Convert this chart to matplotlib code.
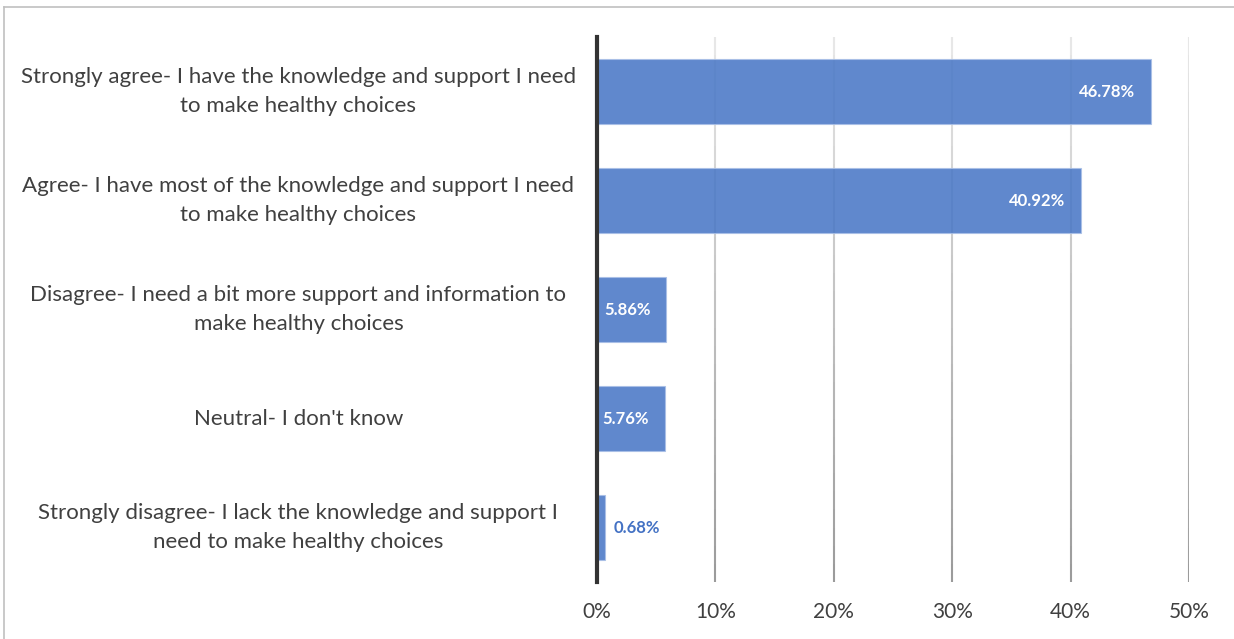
import matplotlib.pyplot as plt
import numpy as np
from matplotlib.lines import Line2D
from matplotlib.collections import LineCollection
from matplotlib.colors import to_rgb

plt.rcParams['font.family'] = ['Lato', 'DejaVu Sans']

categories = [
    'Strongly agree- I have the knowledge and support I need\nto make healthy choices',
    'Agree- I have most of the knowledge and support I need\nto make healthy choices',
    'Disagree- I need a bit more support and information to\nmake healthy choices',
    "Neutral- I don't know",
    'Strongly disagree- I lack the knowledge and support I\nneed to make healthy choices',
]
values = [46.78, 40.92, 5.86, 5.76, 0.68]
xticks = [0, 10, 20, 30, 40, 50]

bar_color = '#4a78c6'
text_color = '#404040'

fig = plt.figure(figsize=(12.34, 6.39), dpi=100)
ax = fig.add_axes([0.4838, 0.089, 0.4797, 0.853])

ypos = list(range(len(values)))
ax.barh(ypos, values, height=0.6, color=bar_color, alpha=0.88,
        edgecolor='#a9bfe6', linewidth=0.8, zorder=3)
ax.set_ylim(len(values) - 0.5, -0.5)
ax.set_xlim(0, 50)

# gridlines, lighter at the top, darker at the bottom
top_c = np.array(to_rgb('#e8e8e8'))
bot_c = np.array(to_rgb('#9a9a9a'))
n = 30
ys = np.linspace(0, 1, n + 1)
for t in xticks[1:]:
    segs = [[(t, ys[i]), (t, ys[i + 1])] for i in range(n)]
    cols = [bot_c + (top_c - bot_c) * (ys[i] + ys[i + 1]) / 2 for i in range(n)]
    lc = LineCollection(segs, colors=cols, linewidths=1.5,
                        transform=ax.get_xaxis_transform(), zorder=1)
    ax.add_collection(lc)

# value labels
for y, v in zip(ypos, values):
    if v > 3:
        ax.text(v - 1.35, y, f'{v:.2f}%', ha='right', va='center',
                color='white', fontsize=12, fontweight='bold', zorder=4)
    else:
        ax.text(v + 0.76, y, f'{v:.2f}%', ha='left', va='center',
                color='#4472c4', fontsize=12, fontweight='bold', zorder=4)

ax.set_yticks(ypos)
ax.set_yticklabels(categories, fontsize=16, color=text_color,
                   ha='center', va='center', linespacing=1.55)
ax.tick_params(axis='y', length=0, pad=215)
ax.set_xticks(xticks)
ax.set_xticklabels([f'{t}%' for t in xticks], fontsize=15, color=text_color)
ax.tick_params(axis='x', length=0, pad=14)

for s in ['top', 'right', 'bottom']:
    ax.spines[s].set_visible(False)
ax.spines['left'].set_color('#333333')
ax.spines['left'].set_linewidth(3)
ax.spines['left'].set_zorder(5)

# outer frame (top and left only)
fig.add_artist(Line2D([0.0035, 1.0], [0.989, 0.989], color='#c0c0c0',
                      linewidth=1.2, transform=fig.transFigure))
fig.add_artist(Line2D([0.0035, 0.0035], [0.0, 0.989], color='#c0c0c0',
                      linewidth=1.2, transform=fig.transFigure))

fig.savefig('out.png', dpi=100)
